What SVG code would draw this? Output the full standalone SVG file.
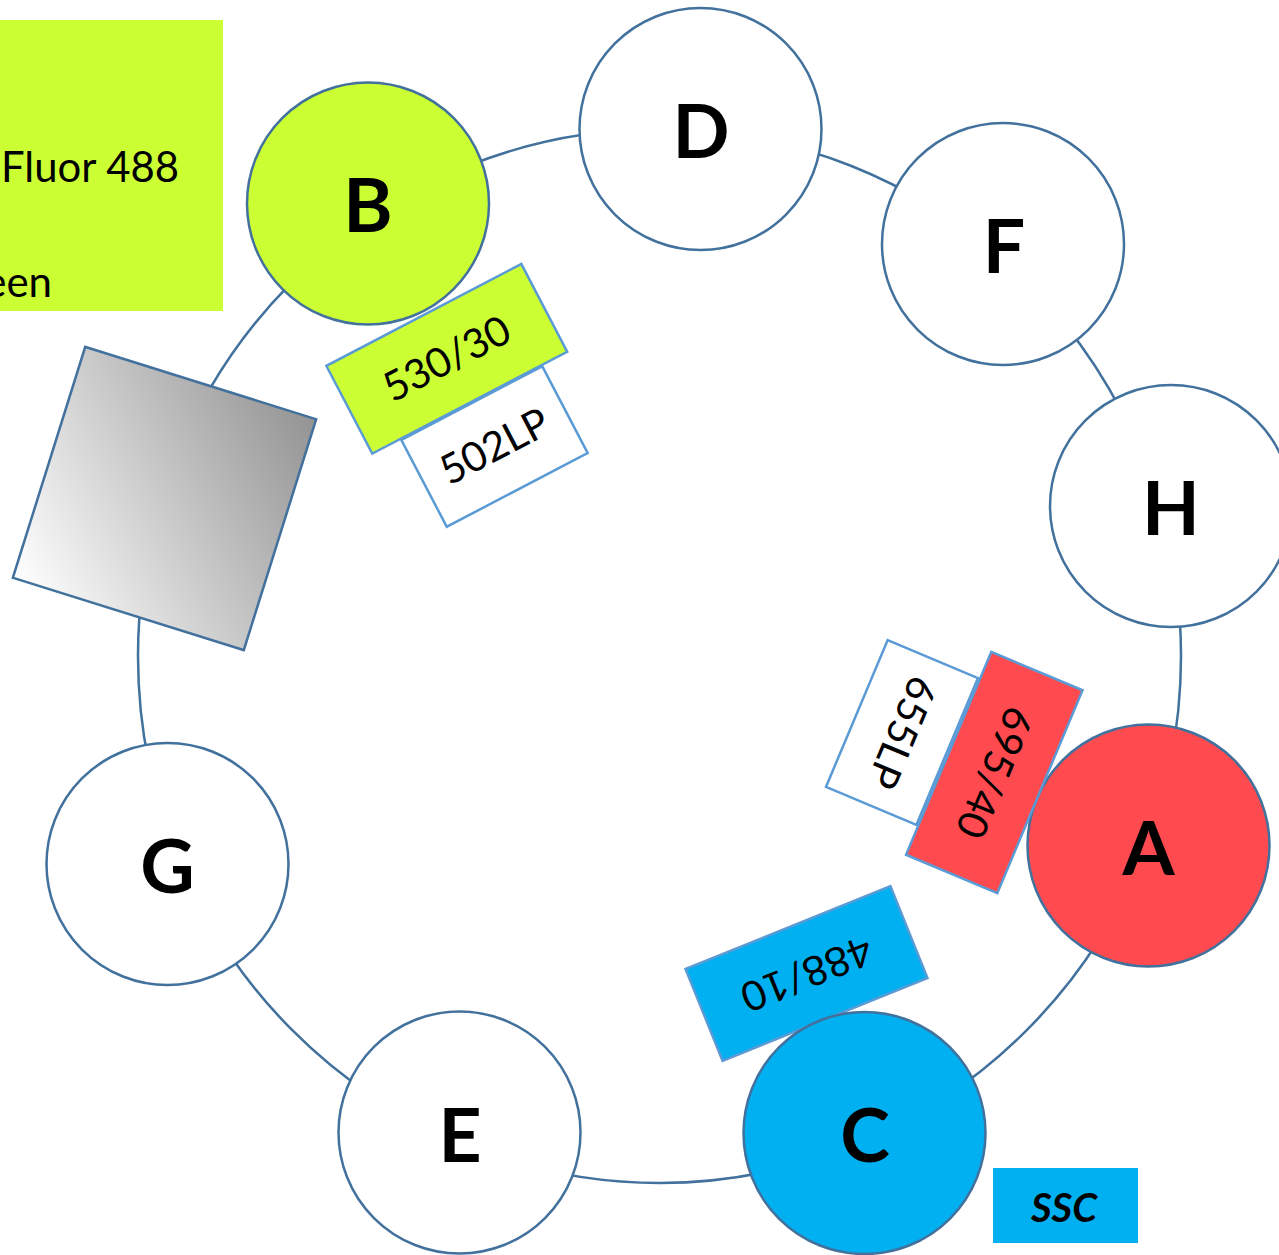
<svg xmlns="http://www.w3.org/2000/svg" width="1279" height="1255" viewBox="0 0 1279 1255">
<style>
.ring{fill:none;stroke:#41719C;stroke-width:2.5}
.node{stroke:#41719C;stroke-width:2.5}
.white{fill:#FFFFFF}
.green{fill:#CCFF33}
.red{fill:#FF4B50}
.blue{fill:#00B0F0}
.letter{font-family:Lato,"Liberation Sans",sans-serif;font-weight:bold;font-size:75px;text-anchor:middle;fill:#000}
.filt{stroke:#5B9BD5;stroke-width:2.5}
.ftxt{font-family:Lato,"Liberation Sans",sans-serif;font-size:41px;text-anchor:middle;fill:#000}
.legend{font-family:Lato,"Liberation Sans",sans-serif;font-size:42px;fill:#000}
</style>
<defs>
<linearGradient id="grey" x1="0" y1="1" x2="1" y2="0">
<stop offset="0" stop-color="#FFFFFF"/>
<stop offset="1" stop-color="#939393"/>
</linearGradient>
</defs>
<g id="connectors">
<ellipse class="ring" cx="659.5" cy="656" rx="521.5" ry="527"/>
</g>
<g id="mirror">
<rect x="-121" y="-121" width="242" height="242" fill="url(#grey)" stroke="#41719C" stroke-width="2.5" transform="translate(164.5,498.5) rotate(17.4)"/>
</g>
<g id="legend">
<rect x="0" y="20" width="223" height="291" class="green"/>
<text class="legend" x="1" y="182" textLength="178" lengthAdjust="spacingAndGlyphs">Fluor 488</text>
<text class="legend" x="52" y="297" text-anchor="end">een</text>
</g>
<g id="ssc">
<rect x="993" y="1168" width="145" height="75" class="blue"/>
<text x="1064" y="1222" font-family="Lato,'Liberation Sans',sans-serif" font-weight="bold" font-style="italic" font-size="40" text-anchor="middle">SSC</text>
</g>
<g id="filter-502LP" transform="translate(494.5,446.5) rotate(-27.6)">
<rect class="filt white" x="-79.5" y="-49" width="159" height="98"/>
<text class="ftxt" x="0" y="14">502LP</text>
</g>
<g id="filter-530-30" transform="translate(446.8,358.8) rotate(-27.6)">
<rect class="filt green" x="-110" y="-49.5" width="220" height="99"/>
<text class="ftxt" x="0" y="14">530/30</text>
</g>
<g id="node-B">
<circle class="node green" cx="368" cy="203.5" r="121"/>
<text class="letter" x="368" y="232">B</text>
</g>
<g id="node-D">
<circle class="node white" cx="700.5" cy="129" r="121"/>
<text class="letter" x="701" y="158">D</text>
</g>
<g id="node-F">
<circle class="node white" cx="1003" cy="244" r="121"/>
<text class="letter" x="1004" y="273">F</text>
</g>
<g id="node-H">
<circle class="node white" cx="1171" cy="506" r="121"/>
<text class="letter" x="1171" y="535">H</text>
</g>
<g id="filter-655LP" transform="translate(902,732.5) rotate(112.8)">
<rect class="filt white" x="-79.5" y="-49" width="159" height="98"/>
<text class="ftxt" x="0" y="14">655LP</text>
</g>
<g id="node-A">
<circle class="node red" cx="1148.5" cy="845.5" r="121"/>
<text class="letter" x="1148.5" y="875">A</text>
</g>
<g id="filter-695-40" transform="translate(994.3,772.5) rotate(112.8)">
<rect class="filt red" x="-110" y="-49.5" width="220" height="99"/>
<text class="ftxt" x="0" y="14">695/40</text>
</g>
<g id="node-G">
<circle class="node white" cx="167.5" cy="864" r="121"/>
<text class="letter" x="167.5" y="893">G</text>
</g>
<g id="node-E">
<circle class="node white" cx="459.5" cy="1132.5" r="121"/>
<text class="letter" x="460" y="1162">E</text>
</g>
<g id="filter-488-10" transform="translate(806.5,973.5) rotate(158)">
<rect class="filt blue" x="-110.5" y="-49.5" width="221" height="99"/>
<text class="ftxt" x="0" y="14">488/10</text>
</g>
<g id="node-C">
<circle class="node blue" cx="864.5" cy="1133" r="121"/>
<text class="letter" x="865" y="1162">C</text>
</g>
</svg>
